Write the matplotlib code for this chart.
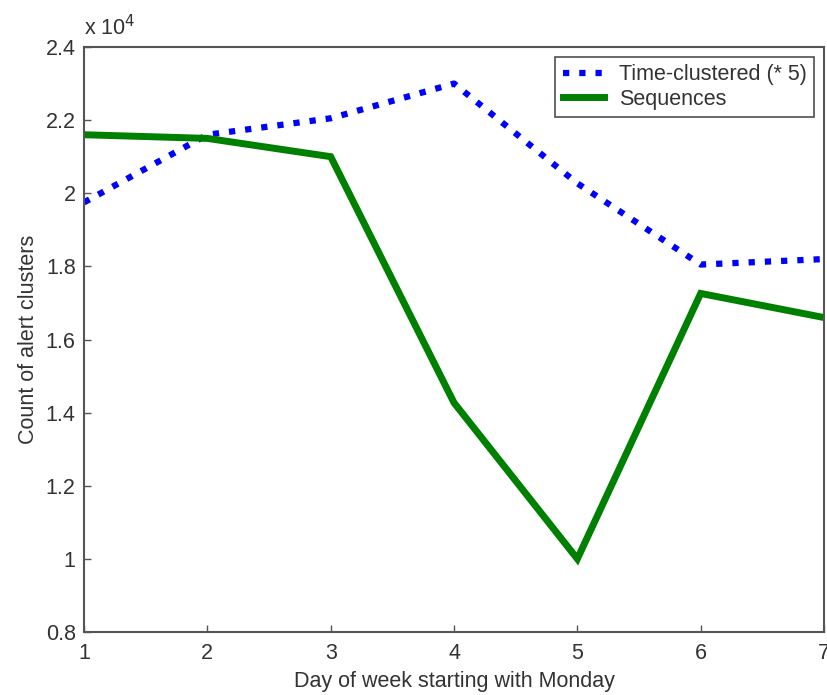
"""Alert cluster counts by day of week (MATLAB-style line chart)."""

import matplotlib

matplotlib.use("Agg")
import matplotlib.pyplot as plt
from matplotlib.ticker import FuncFormatter

plt.rcParams["font.family"] = ["Liberation Sans", "DejaVu Sans"]

days = [1, 2, 3, 4, 5, 6, 7]
time_clustered = [19750, 21600, 22050, 23000, 20270, 18050, 18200]
sequences = [21600, 21500, 21000, 14270, 10000, 17260, 16600]

yticks = [8000, 10000, 12000, 14000, 16000, 18000, 20000, 22000, 24000]

text_color = "#333333"
axis_color = "#555555"
fs = 15.5

fig = plt.figure(figsize=(8.27, 6.95), dpi=100)
ax = fig.add_axes([0.1016, 0.0906, 0.8948, 0.8418])

ax.plot(days, time_clustered, color="#0000ff", lw=4.5,
        linestyle=(0, (1, 1.6)), dash_capstyle="butt",
        label="Time-clustered (* 5)")
ax.plot(days, sequences, color="#008000", lw=5,
        solid_joinstyle="miter", label="Sequences")

ax.set_xlim(1, 7)
ax.set_ylim(8000, 24000)
ax.set_xticks(days)
ax.set_yticks(yticks)
ax.yaxis.set_major_formatter(FuncFormatter(lambda v, _: f"{v / 1e4:g}"))

ax.tick_params(direction="in", length=5, width=1, colors=axis_color,
               labelcolor=text_color, labelsize=fs)
ax.tick_params(axis="x", pad=8)
ax.tick_params(axis="y", pad=6)
for spine in ax.spines.values():
    spine.set_color(axis_color)
    spine.set_linewidth(1.5)

ax.text(0.0, 1.012, r"x 10$^4$", transform=ax.transAxes, fontsize=fs,
        color=text_color, ha="left", va="bottom")

ax.set_xlabel("Day of week starting with Monday", fontsize=fs,
              color=text_color, labelpad=5)
ax.set_ylabel("Count of alert clusters", fontsize=fs, color=text_color,
              labelpad=5)

leg = ax.legend(loc="upper right", fontsize=fs, handlelength=1.9,
                frameon=True, fancybox=False, borderpad=0.35,
                labelspacing=0.15, handletextpad=0.7, borderaxespad=0,
                bbox_to_anchor=(0.9865, 0.983))
leg.get_frame().set_edgecolor("#222222")
leg.get_frame().set_linewidth(1.2)
for t in leg.get_texts():
    t.set_color(text_color)

fig.savefig("out.png", dpi=100)
